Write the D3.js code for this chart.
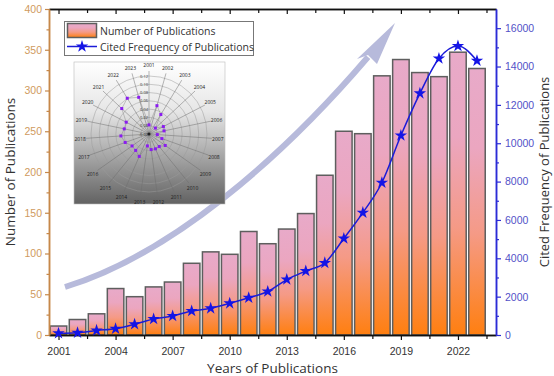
<!DOCTYPE html>
<html>
<head>
<meta charset="utf-8">
<script src="https://cdn.jsdelivr.net/npm/d3@7"></script>
<style>
  html, body { margin: 0; padding: 0; background: #fff; }
  svg { display: block; font-family: "Open Sans", "DejaVu Sans", sans-serif; }
</style>
</head>
<body>
<div id="chart"></div>
<script>
// years of publications
var years = d3.range(2001, 2024)
// number of publications per year (left axis)
var publications = [11, 19, 26, 57, 47, 59, 65, 88, 102, 99, 127, 112, 130, 149, 196, 250, 247, 318, 338, 322, 317, 347, 327]
// cited frequency per year (right axis)
var citations = [90, 120, 240, 330, 560, 830, 990, 1250, 1390, 1650, 1940, 2270, 2890, 3340, 3760, 5030, 6380, 7940, 10400, 12600, 14420, 15070, 14300]
// inset radar values
var radarValues = [0.002, 0.051, 0.035, 0.001, 0.019, 0.017, 0.000, 0.013, 0.028, 0.019, 0.019, 0.018, 0.009,
  0.039, 0.031, 0.030, 0.041, 0.048, 0.041, 0.042, 0.070, 0.081, 0.072]
var radarRings = [-0.02, 0.00, 0.02, 0.04, 0.06, 0.08, 0.10, 0.12]
var leftTicks = d3.range(0, 401, 50)
var rightTicks = d3.range(0, 16001, 2000)
var yearTicks = d3.range(2001, 2023, 3)

var W = 554, H = 376
var plot = { left: 49, right: 496, top: 9, bottom: 335 }

var svg = d3.select('#chart').append('svg')
  .attr('width', W).attr('height', H)

var defs = svg.append('defs')
var grad = defs.append('linearGradient')
  .attr('id', 'barGrad').attr('x1', 0).attr('y1', 0).attr('x2', 0).attr('y2', 1)
grad.selectAll('stop')
  .data([[0, '#e8aac9'], [0.3, '#eba6c0'], [0.62, '#f59a86'], [1, '#ff7f10']])
  .enter().append('stop')
  .attr('offset', function(d) { return d[0] })
  .attr('stop-color', function(d) { return d[1] })

var insetGrad = defs.append('linearGradient')
  .attr('id', 'insetGrad').attr('x1', 0).attr('y1', 0).attr('x2', 0).attr('y2', 1)
insetGrad.selectAll('stop')
  .data([[0, '#ffffff'], [0.35, '#e6e6e6'], [1, '#626262']])
  .enter().append('stop')
  .attr('offset', function(d) { return d[0] })
  .attr('stop-color', function(d) { return d[1] })

// scales
var x = d3.scaleLinear().domain([2000.5, 2024]).range([plot.left, plot.right])
var yL = d3.scaleLinear().domain([0, 400]).range([plot.bottom, plot.top])
var yR = d3.scaleLinear().domain([0, 17000]).range([plot.bottom, plot.top])
var barW = 16.5

// bars
svg.append('g').selectAll('rect')
  .data(publications)
  .enter().append('rect')
  .attr('x', function(d, i) { return x(years[i]) - barW / 2 })
  .attr('y', function(d) { return yL(d) })
  .attr('width', barW)
  .attr('height', function(d) { return yL(0) - yL(d) })
  .attr('fill', 'url(#barGrad)')
  .attr('stroke', '#5e5e5e')
  .attr('stroke-width', 1.5)

// big trend arrow
svg.append('path')
  .attr('d', 'M65,287 C170,255 280,160 368,57')
  .attr('fill', 'none')
  .attr('stroke', '#b7badb')
  .attr('stroke-width', 6)
svg.append('path')
  .attr('d', 'M395,23 L357,59 L368,55 L377,64 Z')
  .attr('fill', '#b7badb')

// axes
function styleAxis(g, color) {
  g.select('.domain').attr('stroke', color).attr('stroke-width', 1.5)
  g.selectAll('.tick line').attr('stroke', color).attr('stroke-width', 1.2)
}

var gBottom = svg.append('g')
  .attr('transform', 'translate(0,' + plot.bottom + ')')
  .call(d3.axisBottom(x).tickValues(yearTicks).tickFormat(d3.format('d'))
    .tickSize(5).tickSizeOuter(0).tickPadding(8))
gBottom.call(styleAxis, '#111')
gBottom.selectAll('text').attr('fill', '#333').attr('font-size', 10.5)
svg.append('g')
  .attr('transform', 'translate(0,' + plot.bottom + ')')
  .call(d3.axisBottom(x).tickValues(d3.range(2002.5, 2024, 3)).tickFormat('')
    .tickSize(4).tickSizeOuter(0))
  .call(styleAxis, '#111')

// top mirror axis, ticks pointing in
svg.append('g')
  .attr('transform', 'translate(0,' + plot.top + ')')
  .call(d3.axisBottom(x).tickValues(yearTicks).tickFormat('').tickSize(5).tickSizeOuter(0))
  .call(styleAxis, '#111')
svg.append('g')
  .attr('transform', 'translate(0,' + plot.top + ')')
  .call(d3.axisBottom(x).tickValues(d3.range(2002.5, 2024, 3)).tickFormat('').tickSize(4).tickSizeOuter(0))
  .call(styleAxis, '#111')

var gLeft = svg.append('g')
  .attr('transform', 'translate(' + plot.left + ',0)')
  .call(d3.axisLeft(yL).tickValues(leftTicks).tickSize(4).tickSizeOuter(0).tickPadding(3))
gLeft.call(styleAxis, '#c6884a')
gLeft.selectAll('text').attr('fill', '#cf9a5e').attr('font-size', 10.5)
svg.append('g')
  .attr('transform', 'translate(' + plot.left + ',0)')
  .call(d3.axisLeft(yL).tickValues(d3.range(25, 400, 50)).tickFormat('').tickSize(2.5).tickSizeOuter(0))
  .call(styleAxis, '#c6884a')

var gRight = svg.append('g')
  .attr('transform', 'translate(' + plot.right + ',0)')
  .call(d3.axisRight(yR).tickValues(rightTicks).tickFormat(d3.format('d'))
    .tickSize(5).tickSizeOuter(0).tickPadding(4))
gRight.call(styleAxis, '#2b2bd6')
gRight.selectAll('text').attr('fill', '#5252c8').attr('font-size', 10.5)
svg.append('g')
  .attr('transform', 'translate(' + plot.right + ',0)')
  .call(d3.axisRight(yR).tickValues(d3.range(1000, 17000, 2000)).tickFormat('').tickSize(3).tickSizeOuter(0))
  .call(styleAxis, '#2b2bd6')

// citation line
var line = d3.line()
  .x(function(d, i) { return x(years[i]) })
  .y(function(d) { return yR(d) })
  .curve(d3.curveMonotoneX)
svg.append('path')
  .datum(citations)
  .attr('d', line)
  .attr('fill', 'none')
  .attr('stroke', '#1b1bd8')
  .attr('stroke-width', 1.5)
var star = d3.symbol().type(d3.symbolStar).size(48)
svg.append('g').selectAll('path')
  .data(citations)
  .enter().append('path')
  .attr('d', star)
  .attr('transform', function(d, i) { return 'translate(' + x(years[i]) + ',' + yR(d) + ')' })
  .attr('fill', '#1414e6')

// axis titles
svg.append('text')
  .attr('transform', 'translate(' + 15 + ',' + (plot.top + plot.bottom) / 2 + ') rotate(-90)')
  .attr('text-anchor', 'middle')
  .attr('font-size', 13.5).attr('fill', '#333')
  .text('Number of Publications')
svg.append('text')
  .attr('transform', 'translate(' + 549 + ',' + (plot.top + plot.bottom) / 2 + ') rotate(-90)')
  .attr('text-anchor', 'middle')
  .attr('font-size', 13).attr('fill', '#333')
  .text('Cited Frequency of Publications')
svg.append('text')
  .attr('x', (plot.left + plot.right) / 2)
  .attr('y', 373)
  .attr('text-anchor', 'middle')
  .attr('font-size', 13.5).attr('fill', '#333')
  .text('Years of Publications')

// legend
var legend = svg.append('g')
legend.append('rect')
  .attr('x', 64.5).attr('y', 21.5).attr('width', 189).attr('height', 34)
  .attr('fill', '#fff').attr('stroke', '#777').attr('stroke-width', 1)
legend.append('rect')
  .attr('x', 67.5).attr('y', 23.5).attr('width', 29).attr('height', 14)
  .attr('fill', 'url(#barGrad)').attr('stroke', '#5e5e5e').attr('stroke-width', 1.5)
legend.append('line')
  .attr('x1', 67).attr('x2', 97).attr('y1', 46.5).attr('y2', 46.5)
  .attr('stroke', '#1b1bd8').attr('stroke-width', 1.5)
legend.append('path')
  .attr('d', star).attr('transform', 'translate(82,46.5)').attr('fill', '#1414e6')
legend.selectAll('text.lg')
  .data(['Number of Publications', 'Cited Frequency of Publications'])
  .enter().append('text')
  .attr('x', 100)
  .attr('y', function(d, i) { return 34.5 + i * 16 })
  .attr('font-size', 10.5).attr('fill', '#333')
  .text(function(d) { return d })

// inset radar chart
var inset = svg.append('g')
inset.append('rect')
  .attr('x', 74).attr('y', 62).attr('width', 151).attr('height', 142)
  .attr('fill', 'url(#insetGrad)').attr('stroke', '#bbb').attr('stroke-width', 0.6)
var cx = 149, cy = 134
var rScale = d3.scaleLinear().domain([-0.02, 0.12]).range([0, 58])
var angle = d3.scaleLinear().domain([0, years.length]).range([0, 2 * Math.PI])
inset.selectAll('circle.ring')
  .data(radarRings.slice(1))
  .enter().append('circle')
  .attr('cx', cx).attr('cy', cy)
  .attr('r', function(d) { return rScale(d) })
  .attr('fill', 'none').attr('stroke', '#9a9a9a').attr('stroke-width', 0.5)
inset.selectAll('line.spoke')
  .data(years)
  .enter().append('line')
  .attr('x1', cx).attr('y1', cy)
  .attr('x2', function(d, i) { return cx + 63 * Math.sin(angle(i)) })
  .attr('y2', function(d, i) { return cy - 63 * Math.cos(angle(i)) })
  .attr('stroke', '#6f6f6f').attr('stroke-width', 0.5)
inset.selectAll('text.yr')
  .data(years)
  .enter().append('text')
  .attr('x', function(d, i) { return cx + 69 * Math.sin(angle(i)) })
  .attr('y', function(d, i) { return cy - 69 * Math.cos(angle(i)) + 2 })
  .attr('text-anchor', 'middle')
  .attr('font-size', 5).attr('fill', '#222')
  .text(function(d) { return d })
inset.selectAll('text.ring')
  .data(radarRings)
  .enter().append('text')
  .attr('x', cx - 1)
  .attr('y', function(d) { return cy - rScale(d) + 1.5 })
  .attr('text-anchor', 'end')
  .attr('font-size', 4).attr('fill', '#333')
  .text(function(d) { return d.toFixed(2) })
var radarPts = radarValues.map(function(v, i) {
  return [cx + rScale(v) * Math.sin(angle(i)), cy - rScale(v) * Math.cos(angle(i))]
})
inset.append('path')
  .attr('d', d3.line().curve(d3.curveLinearClosed)(radarPts))
  .attr('fill', 'none').attr('stroke', '#777').attr('stroke-width', 0.4)
inset.selectAll('rect.pt')
  .data(radarPts)
  .enter().append('rect')
  .attr('x', function(d) { return d[0] - 1.5 })
  .attr('y', function(d) { return d[1] - 1.5 })
  .attr('width', 3).attr('height', 3)
  .attr('fill', '#8a1cf0')
inset.append('circle')
  .attr('cx', cx).attr('cy', cy).attr('r', 1.5).attr('fill', '#222')
</script>
</body>
</html>
